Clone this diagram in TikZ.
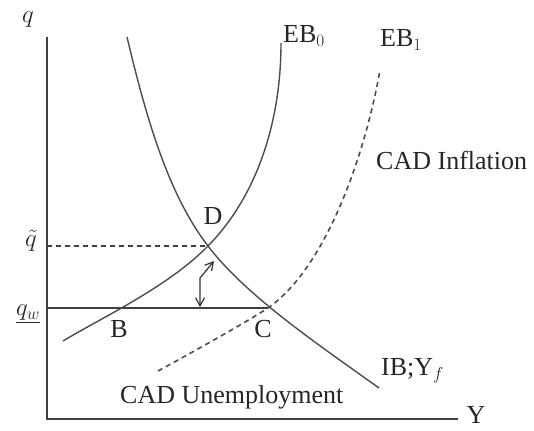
\documentclass[tikz,border=0pt]{standalone}
\usepackage{fontspec}
\setmainfont{Liberation Serif}
\usetikzlibrary{arrows.meta}
\tikzset{
  axisline/.style={line width=1.8pt, draw=black!75},
  curve/.style={line width=1.4pt, draw=black!70},
  dcurve/.style={line width=1.6pt, draw=black!70, dash pattern=on 5pt off 4pt},
  lbl/.style={font=\fontsize{26}{28}\selectfont, inner sep=0pt, text=black!85},
}
\begin{document}
\begin{tikzpicture}[x=1pt,y=-1pt]
\useasboundingbox (0,0) rectangle (534,430);
% key points
\coordinate (O) at (47,419);
\coordinate (Top) at (47,37);
\coordinate (Xend) at (458,419);
\coordinate (B) at (117,308);
\coordinate (C) at (268,308);
\coordinate (D) at (208,246);
\coordinate (QW) at (47,308);
\coordinate (QT) at (47,246);
\coordinate (A1) at (200,307);
\coordinate (A2) at (200,278);
\coordinate (A3) at (214,261);
\coordinate (EB0lo) at (63,341);
\coordinate (EB0hi) at (281,43);
\coordinate (IBhi) at (127,37);
\coordinate (IBlo) at (379,388);
\coordinate (EB1lo) at (158,371);
\coordinate (EB1hi) at (380,70);
% axes
\draw[axisline] (Top) -- (O) -- (Xend);
% q_w line and q-tilde dashed line
\draw[line width=1.5pt, draw=black!75] (QW) -- (C);
\draw[line width=1.5pt, draw=black!75, dash pattern=on 5pt off 4pt] (QT) -- (D);
% EB0
\draw[curve] (EB0lo) .. controls (101,318) and (168,287) .. (D)
                     .. controls (258,195) and (281,120) .. (EB0hi);
% IB
\draw[curve] (IBhi) .. controls (146,117) and (168,194) .. (D)
                    .. controls (246,296) and (319,345) .. (IBlo);
% EB1
\draw[dcurve] (EB1lo) .. controls (200,348) and (243,324) .. (C)
                      .. controls (328,266) and (366,150) .. (EB1hi);
% double arrow
\draw[line width=1.2pt, draw=black!80, {Straight Barb[length=8pt,width=9pt]}-{Straight Barb[length=8pt,width=9pt]}] (A1) -- (A2) -- (A3);
% labels
\node[lbl] (lq) at (28,20) {$q$};
\node[lbl] (lqt) at (31,241) {$\tilde{q}$};
\node[lbl] (lqw) at (28,314) {\underline{$q_w$}};
\node[lbl] (lY) at (476,415) {Y};
\node[lbl, anchor=west] (lEB0) at (283,36) {EB$_0$};
\node[lbl, anchor=west] (lEB1) at (380,40) {EB$_1$};
\node[lbl, anchor=west] (linf) at (376,160) {CAD Inflation};
\node[lbl, anchor=west] (lun) at (120,397) {CAD Unemployment};
\node[lbl, anchor=west] (lIB) at (381,371) {IB;Y$_f$};
\node[lbl] (lB) at (119,329) {B};
\node[lbl] (lC) at (263,329) {C};
\node[lbl] (lD) at (213,216) {D};
\end{tikzpicture}
\end{document}
